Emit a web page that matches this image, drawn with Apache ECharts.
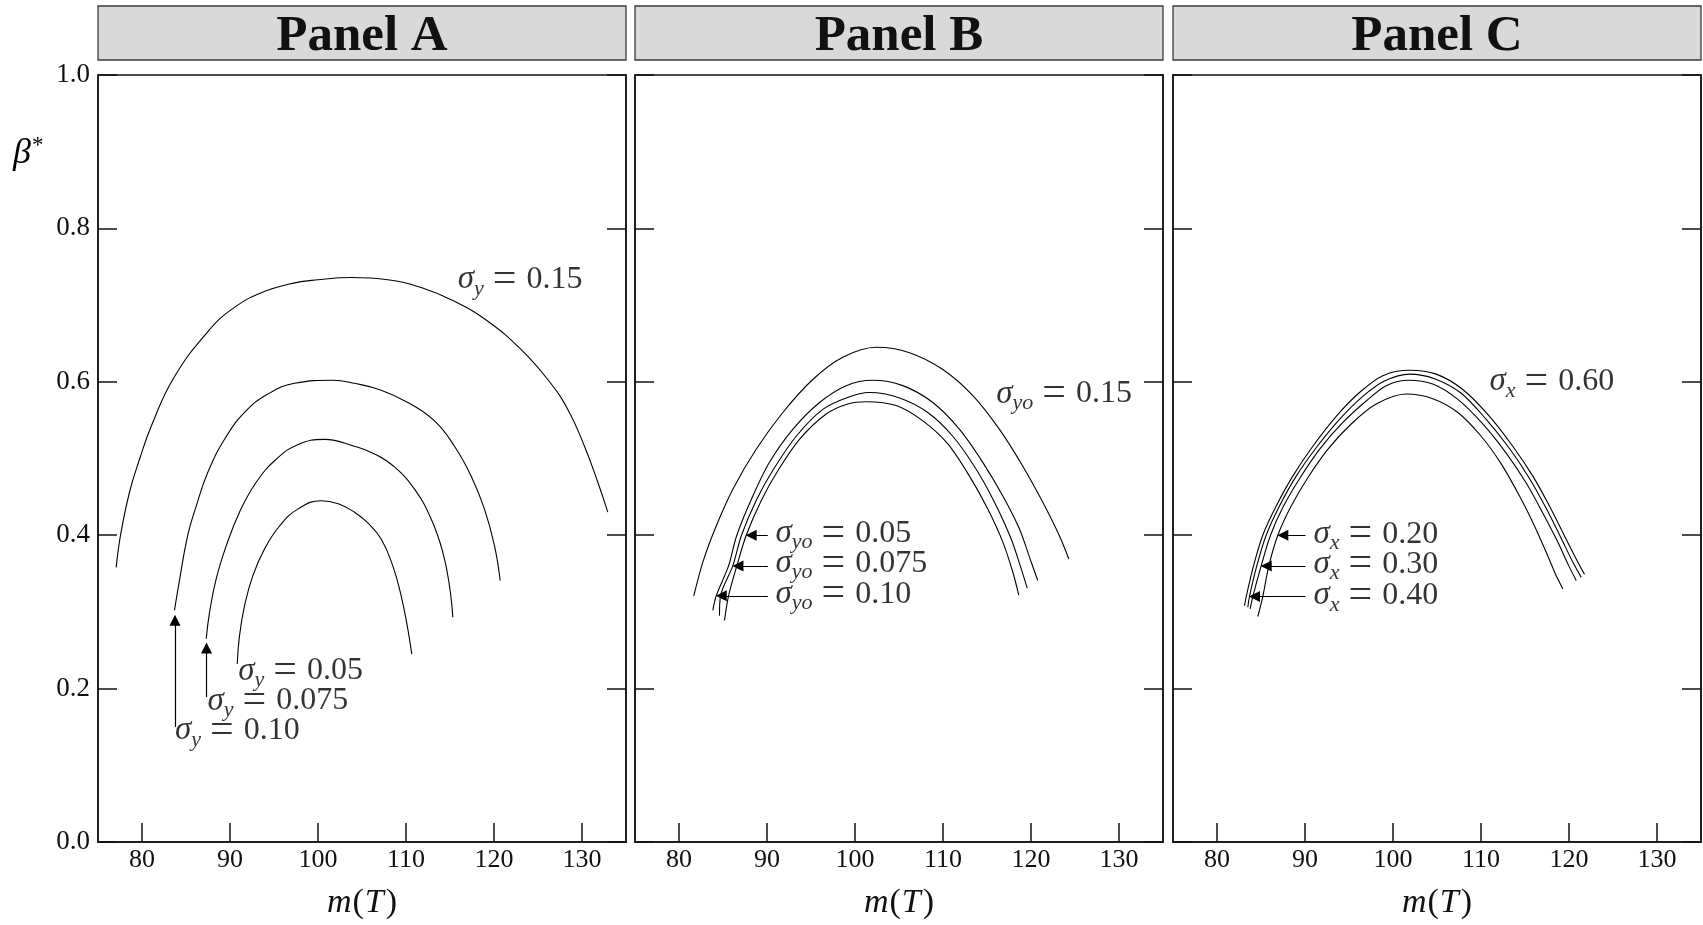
<!DOCTYPE html>
<html>
<head>
<meta charset="utf-8">
<script src="https://cdn.jsdelivr.net/npm/echarts@6/dist/echarts.min.js"></script>
<style>
html, body { margin: 0; padding: 0; background: #fff; }
#main { width: 1703px; height: 925px; }
</style>
</head>
<body>
<div id="main"></div>
<script>
// values
var xTicks = [80, 90, 100, 110, 120, 130];
var yTicks = [0, 0.2, 0.4, 0.6, 0.8, 1.0];
var panelNames = ['Panel A', 'Panel B', 'Panel C'];

// Panel A, sigma_y
var aSig015 = [[77.07,0.358],[77.56,0.400],[78.58,0.456],[79.72,0.499],[81.05,0.542],[83.6,0.605],[87.6,0.667],[90.5,0.697],[93.55,0.716],[96.95,0.728],[99.98,0.733],[103.77,0.736],[107.93,0.733],[111.73,0.723],[115.51,0.705],[119.3,0.679],[123.09,0.642],[126.11,0.603],[128.39,0.564],[130.28,0.516],[131.8,0.469],[132.93,0.430]];
var aSig010 = [[83.69,0.302],[84.15,0.334],[85.2,0.400],[86.16,0.438],[87.48,0.482],[89.38,0.525],[91.65,0.560],[94.3,0.584],[97.33,0.598],[101.68,0.602],[104.15,0.598],[107.18,0.589],[110.2,0.573],[113.24,0.549],[115.51,0.516],[117.41,0.477],[118.92,0.434],[120.06,0.386],[120.7,0.341]];
var aSig0075 = [[87.3,0.265],[87.67,0.299],[88.43,0.343],[89.57,0.386],[91.08,0.430],[92.98,0.469],[95.25,0.499],[97.7,0.518],[100.74,0.525],[104.15,0.516],[106.42,0.506],[108.69,0.489],[110.97,0.460],[112.86,0.421],[114.18,0.378],[114.94,0.334],[115.32,0.293]];
var aSig005 = [[90.82,0.232],[91.08,0.269],[91.65,0.308],[92.59,0.347],[93.92,0.382],[95.63,0.412],[97.7,0.434],[100.36,0.445],[102.3,0.441],[104.15,0.430],[105.66,0.416],[107.18,0.395],[108.5,0.360],[109.45,0.321],[110.14,0.282],[110.66,0.245]];

// Panel B, sigma_yo
var bSig015 = [[81.68,0.321],[82.71,0.365],[84.23,0.412],[86.12,0.460],[88.77,0.512],[91.8,0.560],[95.2,0.603],[98.61,0.632],[102.41,0.645],[106.19,0.638],[109.98,0.616],[113.39,0.582],[116.42,0.538],[119.07,0.490],[121.34,0.443],[123.24,0.399],[124.3,0.369]];
var bSig010 = [[83.84,0.302],[84.23,0.321],[85.63,0.360],[86.57,0.400],[88.39,0.451],[90.28,0.495],[92.93,0.538],[95.97,0.573],[99.0,0.595],[102.02,0.602],[105.43,0.595],[108.84,0.573],[111.88,0.538],[114.52,0.495],[116.8,0.451],[118.69,0.408],[120.02,0.365],[120.77,0.341]];
var bSig0075 = [[84.6,0.295],[84.72,0.321],[86.11,0.360],[87.1,0.400],[88.84,0.447],[90.74,0.486],[93.32,0.529],[96.34,0.564],[99.0,0.579],[101.65,0.586],[105.06,0.579],[108.27,0.560],[111.11,0.529],[113.77,0.486],[115.85,0.443],[117.75,0.395],[118.89,0.356],[119.57,0.331]];
var bSig005 = [[85.17,0.289],[85.63,0.321],[86.57,0.360],[87.64,0.400],[89.34,0.445],[91.23,0.484],[93.69,0.525],[96.73,0.558],[99.18,0.571],[101.27,0.574],[104.68,0.569],[107.71,0.549],[110.55,0.519],[113.01,0.477],[115.09,0.434],[116.8,0.391],[117.93,0.352],[118.61,0.322]];

// Panel C, sigma_x
var cSig060 = [[83.13,0.308],[83.32,0.320],[84.15,0.360],[85.2,0.400],[86.73,0.438],[88.61,0.477],[90.89,0.516],[93.55,0.555],[96.19,0.586],[98.84,0.608],[101.88,0.615],[104.91,0.610],[107.93,0.590],[110.97,0.555],[113.61,0.516],[115.89,0.477],[117.78,0.438],[119.49,0.399],[120.82,0.369],[121.76,0.349]];
var cSig040 = [[83.5,0.306],[83.69,0.320],[84.52,0.360],[85.59,0.400],[87.1,0.438],[89.0,0.477],[91.27,0.514],[93.92,0.551],[96.57,0.581],[99.03,0.601],[101.88,0.610],[104.72,0.604],[107.75,0.585],[110.59,0.551],[113.24,0.513],[115.51,0.474],[117.41,0.435],[119.11,0.396],[120.43,0.365],[121.39,0.345]];
var cSig030 = [[83.77,0.304],[84.07,0.320],[85.02,0.360],[86.08,0.400],[87.56,0.438],[89.45,0.475],[91.65,0.512],[94.3,0.547],[96.95,0.575],[99.23,0.595],[101.8,0.602],[104.52,0.597],[107.37,0.577],[110.2,0.545],[112.86,0.507],[115.14,0.468],[117.02,0.429],[118.73,0.391],[119.98,0.360],[120.82,0.341]];
var cSig020 = [[84.64,0.294],[85.2,0.320],[85.89,0.360],[86.91,0.400],[88.43,0.438],[90.32,0.475],[92.59,0.512],[95.25,0.545],[98.09,0.571],[101.5,0.584],[104.52,0.578],[107.37,0.560],[110.02,0.529],[112.3,0.493],[114.38,0.451],[116.08,0.412],[117.59,0.373],[118.55,0.347],[119.3,0.330]];

// arrows: tail x, tail y, head x, head y
var arrowsA = [[83.75,0.150,83.75,0.289],[87.33,0.189,87.33,0.253]];
var arrowsB = [[90.09,0.400,88.2,0.400],[90.09,0.360,86.7,0.360],[90.09,0.321,84.8,0.321]];
var arrowsC = [[90.06,0.400,87.48,0.400],[90.06,0.360,85.59,0.360],[90.06,0.320,84.26,0.320]];

// curve labels: x, y, subscript, value
var notesA = [[115.89,0.733,'y','0.15'],[90.94,0.223,'y','0.05'],[87.44,0.184,'y','0.075'],[83.75,0.145,'y','0.10']];
var notesB = [[116.05,0.584,'yo','0.15'],[90.97,0.402,'yo','0.05'],[90.97,0.363,'yo','0.075'],[90.97,0.323,'yo','0.10']];
var notesC = [[110.97,0.600,'x','0.60'],[90.97,0.401,'x','0.20'],[90.97,0.362,'x','0.30'],[90.97,0.321,'x','0.40']];

var panelCurves = [[aSig015, aSig010, aSig0075, aSig005], [bSig015, bSig010, bSig0075, bSig005], [cSig060, cSig040, cSig030, cSig020]];
var panelArrows = [arrowsA, arrowsB, arrowsC];
var panelNotes = [notesA, notesB, notesC];

// layout
var FONT = 'Liberation Serif';
var gridLeft = [98, 635, 1173];
var gridTop = 75, gridW = 528, gridH = 768;
var panelSmooth = [0.45, 0.3, 0.3];

var chart = echarts.init(document.getElementById('main'));

var grids = [], xAxes = [], yAxes = [], series = [], graphics = [];

var noteRich = {
    s: { fontFamily: FONT, fontStyle: 'italic', fontSize: 33, color: '#000' },
    sub: { fontFamily: FONT, fontStyle: 'italic', fontSize: 22, color: '#000', padding: [18, 0, 0, 0] },
    e: { fontFamily: FONT, fontSize: 42, color: '#000', padding: [0, 10, 0, 9] },
    t: { fontFamily: FONT, fontSize: 32, color: '#000' }
};

for (var i = 0; i < 3; i++) {
    grids.push({
        left: gridLeft[i], top: gridTop, width: gridW, height: gridH,
        show: true, borderColor: '#111', borderWidth: 1.5, backgroundColor: '#fff'
    });
    xAxes.push({
        gridIndex: i, type: 'value', min: 75, max: 135,
        axisLine: { show: true, onZero: false, lineStyle: { color: '#111', width: 1.5 } },
        axisTick: { show: true, inside: true, length: 19, customValues: xTicks, lineStyle: { color: '#111', width: 1.5 } },
        axisLabel: { customValues: xTicks, fontFamily: FONT, fontSize: 26, color: '#111', margin: 5 },
        splitLine: { show: false },
        name: '{i|m}{r|(}{j|T}{r|)}', nameLocation: 'middle', nameGap: 44,
        nameTextStyle: {
            rich: {
                i: { fontFamily: FONT, fontStyle: 'italic', fontSize: 34, color: '#111', padding: [0, 1, 0, 0] },
                j: { fontFamily: FONT, fontStyle: 'italic', fontSize: 34, color: '#111', padding: [0, 2, 0, 1] },
                r: { fontFamily: FONT, fontSize: 34, color: '#111' }
            }
        }
    });
    graphics.push({
        type: 'rect', silent: true,
        shape: { x: gridLeft[i], y: 6, width: gridW, height: 54 },
        style: { fill: '#d9d9d9', stroke: '#3a3a3a', lineWidth: 1.3 }
    });
    graphics.push({
        type: 'text', silent: true,
        style: {
            x: gridLeft[i] + gridW / 2, y: 37, text: panelNames[i],
            fontFamily: FONT, fontWeight: 'bold', fontSize: 51, fill: '#111',
            align: 'center', verticalAlign: 'middle'
        }
    });
}
// left y axes then right y axes (ticks only)
for (var side = 0; side < 2; side++) {
    for (var j = 0; j < 3; j++) {
        yAxes.push({
            gridIndex: j, type: 'value', min: 0, max: 1, interval: 0.2,
            position: side === 0 ? 'left' : 'right',
            axisLine: { show: true, lineStyle: { color: '#111', width: 1.5 } },
            axisTick: { show: true, inside: true, length: 19, customValues: yTicks, lineStyle: { color: '#111', width: 1.5 } },
            axisLabel: {
                show: side === 0 && j === 0, fontFamily: FONT, fontSize: 27, color: '#111', margin: 8,
                formatter: function (v) { return v.toFixed(1); }
            },
            splitLine: { show: false }
        });
    }
}

for (var k = 0; k < 3; k++) {
    panelCurves[k].forEach(function (curve) {
        series.push({
            type: 'line', xAxisIndex: k, yAxisIndex: k, data: curve,
            showSymbol: false, smooth: panelSmooth[k], silent: true,
            lineStyle: { color: '#000', width: 1.1 }
        });
    });
    series.push({
        type: 'lines', coordinateSystem: 'cartesian2d', xAxisIndex: k, yAxisIndex: k,
        silent: true, symbol: ['none', 'triangle'], symbolSize: [9, 11],
        lineStyle: { color: '#000', width: 1.2, opacity: 1 },
        data: panelArrows[k].map(function (a) { return { coords: [[a[0], a[1]], [a[2], a[3]]] }; })
    });
    series.push({
        type: 'scatter', xAxisIndex: k, yAxisIndex: k, symbolSize: 0, silent: true,
        data: panelNotes[k],
        label: {
            show: true, position: 'right', distance: 0, rich: noteRich,
            formatter: function (p) { return '{s|σ}{sub|' + p.data[2] + '}{e|=}{t|' + p.data[3] + '}'; }
        }
    });
}

graphics.push({
    type: 'text', silent: true,
    style: {
        x: 13, y: 154, text: '{b|β}{a|*}', verticalAlign: 'middle',
        rich: {
            b: { fontFamily: FONT, fontStyle: 'italic', fontSize: 36, color: '#111' },
            a: { fontFamily: FONT, fontSize: 23, color: '#111', padding: [0, 0, 16, 1] }
        }
    }
});

chart.setOption({
    backgroundColor: '#fff',
    animation: false,
    grid: grids,
    xAxis: xAxes,
    yAxis: yAxes,
    series: series,
    graphic: graphics
});
</script>
</body>
</html>
